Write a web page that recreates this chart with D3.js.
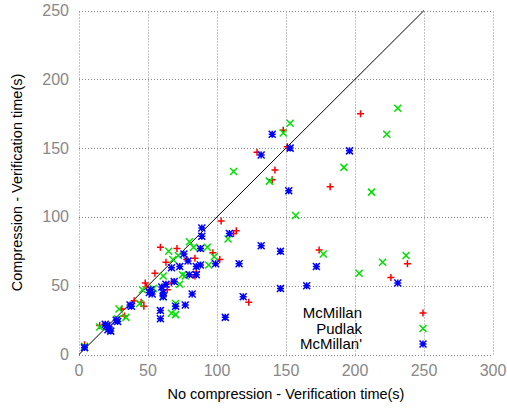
<!DOCTYPE html>
<html>
<head>
<meta charset="utf-8">
<script src="https://cdn.jsdelivr.net/npm/d3@7"></script>
<style>
  body { margin: 0; background: #fff; }
  svg { display: block; font-family: 'Liberation Sans', Arial, sans-serif; }
</style>
</head>
<body>
<svg id="chart"></svg>
<script>
var xTicks = [0, 50, 100, 150, 200, 250, 300];
var yTicks = [0, 50, 100, 150, 200, 250];

var seriesNames = ['McMillan', 'Pudlak', "McMillan'"];

var mcmillan = [[4,7],[15,21],[31,33],[33,28],[40,39],[45,38],[47,35],[48,52],[49,49],[55,59],[59,78],
  [63,67],[64,47],[67,52],[71,77],[78,69],[84,70],[85,60],[84,57],[97,74],[102,69],[103,97],[112,88],
  [114,90],[123,38],[129,147],[140,127],[142,134],[148,163],[151,151],[174,76],[182,122],[204,175],
  [226,56],[238,66]];

var pudlak = [[4,6],[15,20],[28,26],[29,33],[34,27],[44,37],[46,47],[54,48],[61,57],[61,42],[65,75],
  [67,30],[68,69],[70,37],[70,29],[72,72],[73,51],[75,58],[77,57],[80,82],[83,78],[93,78],[94,65],
  [98,71],[108,84],[112,133],[138,126],[148,161],[153,168],[157,101],[177,73],[192,136],[203,59],
  [212,118],[220,67],[223,160],[231,179],[237,72]];

var mcmillanPrime = [[4,5],[19,22],[21,18],[22,20],[23,17],[20,21],[27,25],[28,24],[37,36],[38,35],
  [51,45],[52,47],[53,44],[59,32],[59,26],[60,49],[61,45],[61,42],[63,51],[67,63],[69,53],[70,35],
  [73,64],[76,73],[77,36],[79,68],[80,58],[82,44],[85,64],[85,58],[88,77],[88,65],[89,86],[89,92],
  [99,66],[106,27],[109,88],[116,66],[119,42],[132,79],[132,145],[140,160],[146,75],[146,48],
  [152,119],[153,150],[165,50],[172,64],[196,148],[231,52]];

var width = 507, height = 408;
var margin = { top: 10.5, right: 14, bottom: 53.5, left: 79 };

var svg = d3.select('#chart').attr('width', width).attr('height', height);

var x = d3.scaleLinear().domain([0, 300]).range([margin.left, width - margin.right]);
var y = d3.scaleLinear().domain([0, 250]).range([height - margin.bottom, margin.top]);

var grid = svg.append('g')
  .attr('stroke', '#888')
  .attr('stroke-width', 1)
  .attr('stroke-dasharray', '1,2');

grid.selectAll('.vline').data(xTicks).enter().append('line')
  .attr('x1', d => Math.round(x(d)) + 0.5).attr('x2', d => Math.round(x(d)) + 0.5)
  .attr('y1', y(0)).attr('y2', y(250));

grid.selectAll('.hline').data(yTicks).enter().append('line')
  .attr('y1', d => Math.round(y(d)) + 0.5).attr('y2', d => Math.round(y(d)) + 0.5)
  .attr('x1', x(0)).attr('x2', x(300));

// tick labels
svg.append('g').selectAll('text').data(xTicks).enter().append('text')
  .attr('x', d => x(d)).attr('y', y(0) + 21)
  .attr('text-anchor', 'middle')
  .attr('font-size', 16).attr('fill', '#888')
  .text(d => d);

svg.append('g').selectAll('text').data(yTicks).enter().append('text')
  .attr('x', x(0) - 10).attr('y', d => y(d) + 5.5)
  .attr('text-anchor', 'end')
  .attr('font-size', 16).attr('fill', '#888')
  .text(d => d);

// axis titles
svg.append('text')
  .attr('x', (x(0) + x(300)) / 2).attr('y', 399)
  .attr('text-anchor', 'middle').attr('font-size', 14.5)
  .text('No compression - Verification time(s)');

svg.append('text')
  .attr('transform', 'translate(22,' + ((y(0) + y(250)) / 2) + ') rotate(-90)')
  .attr('text-anchor', 'middle').attr('font-size', 14.5)
  .text('Compression - Verification time(s)');

// diagonal y = x
svg.append('line')
  .attr('x1', x(0)).attr('y1', y(0)).attr('x2', x(250)).attr('y2', y(250))
  .attr('stroke', '#000').attr('stroke-width', 1);

var s = 3.5;
function plusPath(px, py) {
  return 'M' + (px - s) + ',' + py + 'H' + (px + s) + 'M' + px + ',' + (py - s) + 'V' + (py + s);
}
function crossPath(px, py) {
  return 'M' + (px - s) + ',' + (py - s) + 'L' + (px + s) + ',' + (py + s) +
    'M' + (px - s) + ',' + (py + s) + 'L' + (px + s) + ',' + (py - s);
}
function starPath(px, py) { return plusPath(px, py) + crossPath(px, py); }

var series = [
  { data: mcmillan, color: '#ff0000', shape: plusPath },
  { data: pudlak, color: '#00e000', shape: crossPath },
  { data: mcmillanPrime, color: '#0000ff', shape: starPath }
];

series.forEach(function(sr) {
  svg.append('g').selectAll('path').data(sr.data).enter().append('path')
    .attr('d', d => sr.shape(x(d[0]), y(d[1])))
    .attr('stroke', sr.color).attr('stroke-width', 1.5).attr('fill', 'none');
});

// legend
var legend = svg.append('g');
series.forEach(function(sr, i) {
  var ly = 313 + i * 15.5;
  legend.append('text')
    .attr('x', 362).attr('y', ly + 5)
    .attr('text-anchor', 'end').attr('font-size', 15)
    .text(seriesNames[i]);
  legend.append('path')
    .attr('d', sr.shape(423, ly))
    .attr('stroke', sr.color).attr('stroke-width', 1.5).attr('fill', 'none');
});
</script>
</body>
</html>
